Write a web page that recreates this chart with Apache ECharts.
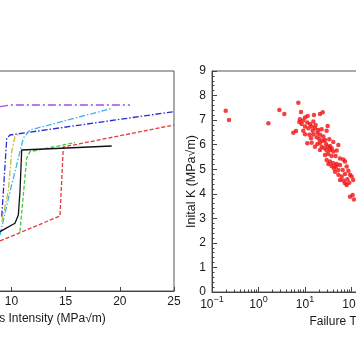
<!DOCTYPE html>
<html><head><meta charset="utf-8">
<script src="https://cdn.jsdelivr.net/npm/echarts@6/dist/echarts.min.js"></script>
<style>html,body{margin:0;padding:0;background:#fff}#c{width:356px;height:364px}</style>
</head><body><div id="c"></div>
<script>
// Left panel: stress intensity (MPa√m) vs. (hidden) response, one array of [K, y] per curve
const curveBlack  = [[8.95,2.97],[10.33,3.39],[10.64,3.80],[10.79,4.97],[10.95,7.05],[19.25,7.25]];
const curveGreen  = [[10.79,2.97],[11.41,6.64],[11.72,6.97],[15.87,7.42]];
const curveRed    = [[8.95,2.50],[14.48,3.75],[14.79,7.20],[25.0,8.30]];
const curveCyan   = [[8.95,2.80],[9.87,4.97],[10.64,6.64],[11.10,7.64],[11.72,8.05],[19.25,9.13]];
const curveOlive  = [[9.11,3.47],[9.71,4.97],[10.03,6.97],[10.33,7.72],[10.64,7.84]];
const curveBlue   = [[9.11,3.72],[9.57,7.63],[9.87,7.80],[25.0,8.97]];
const curvePurple = [[8.95,9.22],[9.87,9.30],[20.94,9.30]];
const leftXTicks = [10, 15, 20, 25];

// Right panel: failure time vs initial K
const failureTime = [7.19,2.81,3.59,1.63,8.2,10.0,11.4,15.6,21.0,24.0,7.8,9.2,7.55,8.47,11.2,12.8,15.1,16.9,13.9,10.0,
  11.8,16.4,19.4,22.8,30.7,29.2,14.6,9.2,5.6,6.4,18.4,10.0,12.4,15.1,21.0,24.8,17.8,13.5,20.3,26.9,
  33.3,24.0,40.6,11.2,13.9,18.4,21.0,28.3,30.7,34.5,52.1,22.8,26.0,37.4,16.4,21.0,29.2,34.5,40.6,48.0,
  26.9,31.8,37.4,45.6,56.6,66.7,29.2,34.5,40.6,48.0,56.6,31.8,37.4,46.4,72.4,78.7,42.1,52.1,64.6,85.5,
  72.4,92.9,44.2,52.1,61.4,101,56.6,66.7,81.3,89.7,72.4,109,78.7,92.9,113,106,0.197,0.232];
const initialK = [7.71,7.41,7.25,6.87,7.33,7.11,7.17,7.21,7.25,7.32,7.03,6.98,6.92,6.84,6.90,6.84,6.94,6.80,6.74,6.74,
  6.67,6.67,6.60,6.63,6.76,6.57,6.57,6.57,6.49,6.56,6.49,6.42,6.40,6.41,6.40,6.33,6.30,6.26,6.22,6.19,
  6.22,6.16,6.11,6.06,6.08,6.03,6.08,6.03,5.92,5.95,5.99,5.92,5.85,5.85,5.92,5.78,5.76,5.78,5.72,5.76,
  5.58,5.62,5.54,5.54,5.44,5.40,5.38,5.31,5.24,5.21,5.17,5.21,5.13,5.11,5.31,5.11,5.04,4.97,4.97,4.94,
  4.81,4.77,4.90,4.77,4.70,4.70,4.56,4.54,4.59,4.45,4.43,4.56,4.36,3.88,3.77,3.95,7.38,7.00];
const rightYTicks = [0,1,2,3,4,5,6,7,8,9];
const decades = [-1,0,1,2,3,4,5];

const minorVals = [];
for (let i = 0; i < decades.length - 1; i++) for (let m = 2; m <= 9; m++) minorVals.push(m * Math.pow(10, decades[i]));

const FONT = 'Liberation Sans, Arial, sans-serif';
const axisTxt = {color:'#1a1a1a', fontFamily: FONT, fontSize: 12};
const lineAx = {show:true, lineStyle:{color:'#444', width:1}};

function lineSeries(data, color, type) {
  return {type:'line', xAxisIndex:0, yAxisIndex:0, data, symbol:'none', silent:true,
    lineStyle:{color, width:1.3, type}, z:3};
}
const DASH = [4,2], DDOT = [6,2,1.5,2];

const chart = echarts.init(document.getElementById('c'), null, {renderer:'canvas'});
chart.setOption({
  animation:false,
  backgroundColor:'#fff',
  grid:[
    {left:-97, top:71, width:271, height:220, show:true, borderColor:'#555', borderWidth:1,
     containLabel:false, outerBoundsMode:'none'},
    {left:212, top:71, width:279, height:221, show:true, borderColor:'#555', borderWidth:1,
     containLabel:false, outerBoundsMode:'none'}
  ],
  xAxis:[
    {type:'value', gridIndex:0, min:0, max:25, interval:5,
     name:'Stress Intensity (MPa\u221Am)', nameLocation:'middle', nameGap:22, nameMoveOverlap:false,
     nameTextStyle:{...axisTxt, fontSize:12},
     axisLine:lineAx, axisTick:{show:true, inside:true, length:4, lineStyle:{color:'#444'}},
     axisLabel:{...axisTxt, margin:5}, splitLine:{show:false}},
    {type:'log', gridIndex:1, logBase:10, min:0.1, max:100000, splitNumber:6,
     name:'Failure Time (h)', nameLocation:'middle', nameGap:24, nameMoveOverlap:false,
     nameTextStyle:{...axisTxt, fontSize:12},
     axisLine:lineAx, axisTick:{show:true, inside:true, length:5, lineStyle:{color:'#444'}},
     axisLabel:{margin:3, formatter:(v)=>{const e=Math.round(Math.log10(v)); return '{b|10}{s|'+(e<0?'\u2212'+(-e):e)+'}';},
       rich:{b:{...axisTxt, padding:[4,0,0,0]}, s:{...axisTxt, fontSize:9, verticalAlign:'top'}}},
     splitLine:{show:false}},
    {type:'log', gridIndex:1, logBase:10, min:0.1, max:100000, position:'bottom',
     axisLine:{show:false}, axisLabel:{show:false}, splitLine:{show:false},
     axisTick:{show:true, inside:true, length:2.5, customValues:minorVals, lineStyle:{color:'#444'}}}
  ],
  yAxis:[
    {type:'value', gridIndex:0, min:0, max:11, axisLine:{show:false}, axisTick:{show:false},
     axisLabel:{show:false}, splitLine:{show:false}},
    {type:'value', gridIndex:1, min:0, max:9, interval:1,
     name:'Inital K (MPa\u221Am)', nameLocation:'middle', nameGap:14, nameRotate:90, nameMoveOverlap:false,
     nameTextStyle:{...axisTxt, fontSize:12.5},
     axisLine:lineAx, axisTick:{show:true, inside:true, length:5, lineStyle:{color:'#444'}},
     minorTick:{show:true, splitNumber:5, length:2.5, lineStyle:{color:'#444'}},
     axisLabel:{...axisTxt, margin:6}, splitLine:{show:false}}
  ],
  series:[
    lineSeries(curvePurple, '#a04ee6', [8,3,2,3]),
    lineSeries(curveBlue, '#2a2ad0', DDOT),
    lineSeries(curveCyan, '#3cb4ea', DDOT),
    lineSeries(curveOlive, '#c6bc3a', DDOT),
    lineSeries(curveRed, '#e23a3a', DASH),
    lineSeries(curveGreen, '#3ecc3e', DASH),
    lineSeries(curveBlack, '#111111', 'solid'),
    {type:'scatter', xAxisIndex:1, yAxisIndex:1, silent:true,
     data: failureTime.map((t,i)=>[t, initialK[i]]),
     symbol:'circle', symbolSize:4.5, itemStyle:{color:'#f01010'}, z:4}
  ]
});
</script>
</body></html>
